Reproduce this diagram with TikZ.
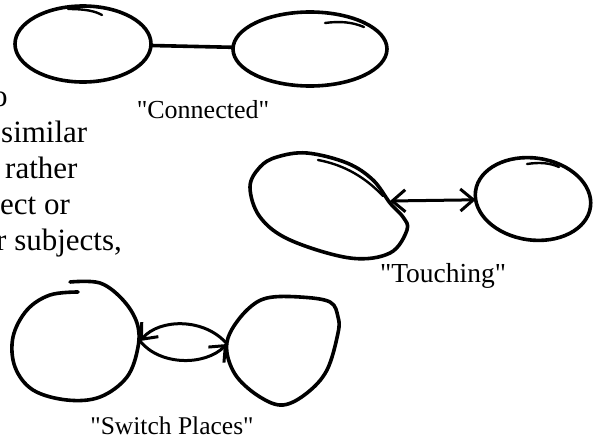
\documentclass[tikz,border=0pt]{standalone}
\usepackage{fontspec}
% TeX ligatures off so that " stays a straight quote
\setmainfont{Liberation Serif}[Ligatures=TeXOff]
\usetikzlibrary{arrows.meta,shapes.geometric}
\tikzset{
  inkline/.style={line width=3.6pt, line cap=round, line join=round},
  inktail/.style={line width=2.4pt, line cap=round},
  inkarrow/.style={line width=3pt, line cap=round, line join=round},
  bodytext/.style={font=\fontsize{31}{36}\selectfont, anchor=base west, inner sep=0pt},
  captext/.style={font=\fontsize{26}{30}\selectfont, anchor=base, inner sep=0pt},
  blob/.style={ellipse, inkline, draw, inner sep=0pt, outer sep=0pt},
  barb/.tip={Straight Barb[length=13pt,width=22pt]}
}
\begin{document}
\begin{tikzpicture}[x=1pt,y=-1pt]
\useasboundingbox (0,0) rectangle (597,442);
\clip (0,0) rectangle (597,442);

% running text cut at the left margin
\node[bodytext] (t1) at (-8,106) {o};
\node[bodytext] (t2) at (1,142) {similar};
\node[bodytext] (t3) at (5,178) {rather};
\node[bodytext] (t4) at (0,214) {ect or};
\node[bodytext] (t5) at (-4,250) {r subjects,};

% "Connected": two ovals joined by a line
\node[blob, minimum width=136pt, minimum height=76pt] (conA) at (83,44) {};
\node[blob, minimum width=154pt, minimum height=74pt] (conB) at (310,49) {};
\draw[inktail] (68,9) .. controls (85,9) and (95,11) .. (102,15);
\draw[inktail] (325,23) .. controls (340,21) and (352,22) .. (364,27);
\draw[inkline] (conA) -- (conB);
\node[captext] (capA) at (203,118) {"Connected"};

% "Touching": tilted oval and small oval with a double arrow
\draw[inkline] plot[smooth cycle, tension=0.6] coordinates {
  (307,153) (347,163) (373,180) (390,203) (403,217) (407,230) (390,253)
  (350,258) (290,240) (260,217) (250,187) (260,167) (277,157)};
\draw[inktail] (318,160) .. controls (345,165) and (366,178) .. (383,196);
\node[blob, minimum width=116pt, minimum height=82pt, rotate=-8] (tchB) at (533,199) {};
\draw[inktail] (527,164) .. controls (540,162) and (550,163) .. (559,167);
\coordinate (tchA) at (390,201);
\draw[inkarrow, barb-barb] (tchA) -- (tchB);
\node[captext, font=\fontsize{27.5}{30}\selectfont] (capB) at (443,282) {"Touching"};

% "Switch Places": round loop and blob with two curved arrows
\draw[inkline] plot[smooth, tension=0.6] coordinates {
  (70,282) (100,283) (123,300) (137,323) (138,347) (127,377) (100,397)
  (67,400) (33,390) (15,367) (13,337) (27,310) (50,295) (78,292)};
\draw[inkline] plot[smooth cycle, tension=0.6] coordinates {
  (267,298) (300,297) (330,302) (338,317) (338,333) (327,370) (307,393)
  (283,405) (260,397) (237,377) (227,353) (230,333) (247,310)};
\coordinate (swA) at (140,341);
\coordinate (swB) at (227,344);
\draw[inkarrow, barb-] (swA) .. controls (160,318) and (205,318) .. (swB);
\draw[inkarrow, -barb] (swA) .. controls (160,366) and (205,366) .. (swB);
\node[captext, font=\fontsize{25.5}{30}\selectfont] (capC) at (172,434) {"Switch Places"};
\end{tikzpicture}
\end{document}
